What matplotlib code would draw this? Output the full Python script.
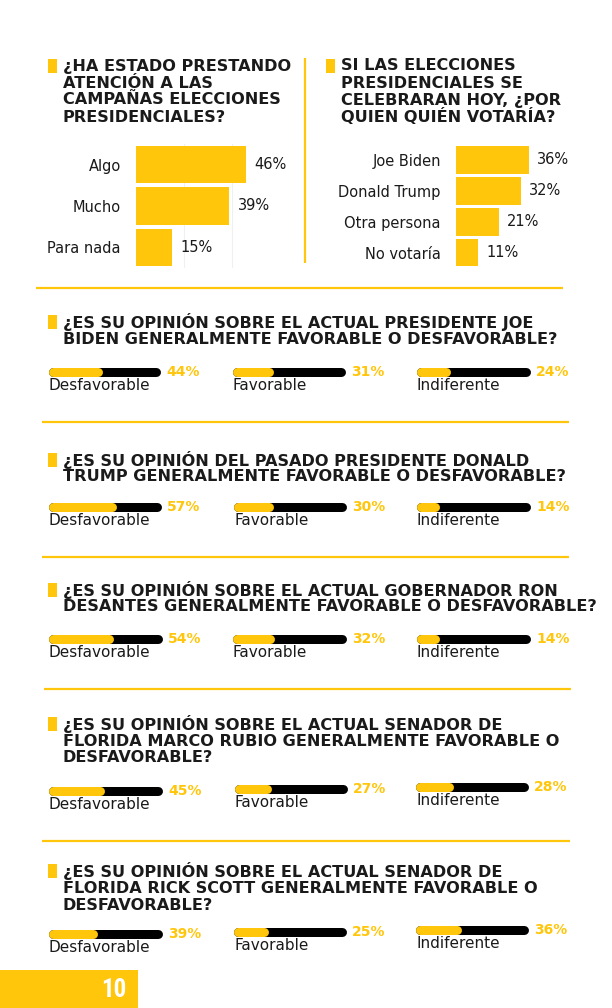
import matplotlib
matplotlib.use("Agg")
import matplotlib.pyplot as plt
from matplotlib.patches import Rectangle
from matplotlib import font_manager

W, H = 612, 1008
YEL = "#FFC60B"
TXT = "#1a1a1a"

# ---------------- data ----------------
q1_title = ["¿HA ESTADO PRESTANDO", "ATENCIÓN A LAS", "CAMPAÑAS ELECCIONES", "PRESIDENCIALES?"]
q1_cats = ["Algo", "Mucho", "Para nada"]
q1_vals = [46, 39, 15]

q2_title = ["SI LAS ELECCIONES", "PRESIDENCIALES SE", "CELEBRARAN HOY, ¿POR", "QUIEN QUIÉN VOTARÍA?"]
q2_cats = ["Joe Biden", "Donald Trump", "Otra persona", "No votaría"]
q2_vals = [36, 32, 21, 11]

op_labels = ["Desfavorable", "Favorable", "Indiferente"]

biden_title = ["¿ES SU OPINIÓN SOBRE EL ACTUAL PRESIDENTE JOE",
               "BIDEN GENERALMENTE FAVORABLE O DESFAVORABLE?"]
biden_vals = [44, 31, 24]

trump_title = ["¿ES SU OPINIÓN DEL PASADO PRESIDENTE DONALD",
               "TRUMP GENERALMENTE FAVORABLE O DESFAVORABLE?"]
trump_vals = [57, 30, 14]

desantis_title = ["¿ES SU OPINIÓN SOBRE EL ACTUAL GOBERNADOR RON",
                  "DESANTES GENERALMENTE FAVORABLE O DESFAVORABLE?"]
desantis_vals = [54, 32, 14]

rubio_title = ["¿ES SU OPINIÓN SOBRE EL ACTUAL SENADOR DE",
               "FLORIDA MARCO RUBIO GENERALMENTE FAVORABLE O",
               "DESFAVORABLE?"]
rubio_vals = [45, 27, 28]

scott_title = ["¿ES SU OPINIÓN SOBRE EL ACTUAL SENADOR DE",
               "FLORIDA RICK SCOTT GENERALMENTE FAVORABLE O",
               "DESFAVORABLE?"]
scott_vals = [39, 25, 36]

page_number = "10"

# ---------------- figure ----------------
fig = plt.figure(figsize=(W / 100, H / 100), dpi=100)
fig.patch.set_facecolor("white")

bg = fig.add_axes([0, 0, 1, 1])
bg.set_xlim(0, W)
bg.set_ylim(H, 0)
bg.axis("off")


def px_axes(x0, y0, x1, y1):
    return fig.add_axes([x0 / W, 1 - y1 / H, (x1 - x0) / W, (y1 - y0) / H])


def header(lines, x, y0, dy=17):
    bg.add_patch(Rectangle((x - 15, y0 - 7), 9, 14, color=YEL, lw=0))
    for i, ln in enumerate(lines):
        bg.text(x, y0 + i * dy, ln, fontsize=11.6, fontweight="bold",
                color=TXT, va="center", ha="left")


# ---------------- top bar charts ----------------
header(q1_title, 63, 66)
header(q2_title, 341, 66)

bg.plot([305, 305], [58, 263], color=YEL, lw=1.6, solid_capstyle="butt")


def hbar(ax, cats, vals, xmax, grid):
    y = range(len(cats))
    bars = ax.barh(list(y), vals, height=0.9, color=YEL, zorder=2)
    ax.set_ylim(len(cats) - 0.5, -0.5)
    ax.set_xlim(0, xmax)
    ax.set_yticks(list(y))
    ax.set_yticklabels(cats, fontsize=10.5, color=TXT)
    ax.tick_params(axis="y", length=0, pad=11)
    ax.set_xticks(grid)
    ax.tick_params(axis="x", length=0, labelbottom=False)
    ax.grid(axis="x", color="#f0f0f0", lw=0.8, zorder=0)
    for s in ax.spines.values():
        s.set_visible(False)
    ax.patch.set_alpha(0)
    ax.bar_label(bars, labels=[f"{v}%" for v in vals], padding=6,
                 fontsize=10.5, color=TXT)


ax1 = px_axes(136, 144, 136 + 60 * 2.39, 268)
hbar(ax1, q1_cats, q1_vals, 60, [20, 40])

ax2 = px_axes(456, 144.5, 456 + 60 * 2.03, 268)
hbar(ax2, q2_cats, q2_vals, 60, [])

# ---------------- separators ----------------
for y, x0, x1 in [(288, 36, 563), (422, 42, 569), (557, 42, 569),
                  (689, 44, 571), (841, 42, 570)]:
    bg.plot([x0, x1], [y, y], color=YEL, lw=1.6, solid_capstyle="butt")

# ---------------- progress bar rows ----------------
BAR_PX = 9
LW = BAR_PX * 72 / 100


def progress(vals, cols, ys):
    for lab, v, (x0, x1), yc in zip(op_labels, vals, cols, ys):
        r = BAR_PX / 2
        ax = px_axes(x0 + r, yc - 6, x1 - r, yc + 6)
        ax.set_xlim(0, 100)
        ax.set_ylim(-1, 1)
        ax.axis("off")
        ax.plot([0, 100], [0, 0], color="black", lw=LW,
                solid_capstyle="round", clip_on=False)
        ax.plot([0, v], [0, 0], color=YEL, lw=LW,
                solid_capstyle="round", clip_on=False)
        ax.annotate(f"{v}%", xy=(1, 0.5), xycoords="axes fraction",
                    xytext=(r + 6, 0), textcoords="offset pixels",
                    fontsize=10, fontweight="bold", color=YEL,
                    va="center", ha="left")
        ax.annotate(lab, xy=(0, 0.5), xycoords="axes fraction",
                    xytext=(-r + 1, -13.5), textcoords="offset pixels",
                    fontsize=11, color=TXT, va="center", ha="left")


header(biden_title, 63, 322)
progress(biden_vals, [(48, 160), (232, 345), (416, 530)], [372, 372, 372])

header(trump_title, 63, 460, dy=16.5)
progress(trump_vals, [(48, 161), (233, 346), (416, 530)], [507, 507, 507])

header(desantis_title, 63, 590, dy=16.5)
progress(desantis_vals, [(48, 162), (232, 346), (416, 530)], [639, 639, 639])

header(rubio_title, 63, 724, dy=17)
progress(rubio_vals, [(48, 162), (234, 347), (415, 528)], [791, 789, 787])

header(scott_title, 63, 871, dy=17.5)
progress(scott_vals, [(48, 162), (233, 346), (415, 528)], [934, 932, 930])

# ---------------- page number ----------------
installed = {f.name for f in font_manager.fontManager.ttflist}
num_family = [f for f in ["Roboto Condensed", "Liberation Sans Narrow",
                          "DejaVu Sans Condensed"] if f in installed]
num_family.append("DejaVu Sans")
bg.add_patch(Rectangle((0, 970), 138, 38, color=YEL, lw=0))
bg.text(114, 990, page_number, fontsize=18, fontweight="bold",
        family=num_family, color="white", ha="center", va="center")

fig.savefig("out.png", dpi=100, facecolor="white")
